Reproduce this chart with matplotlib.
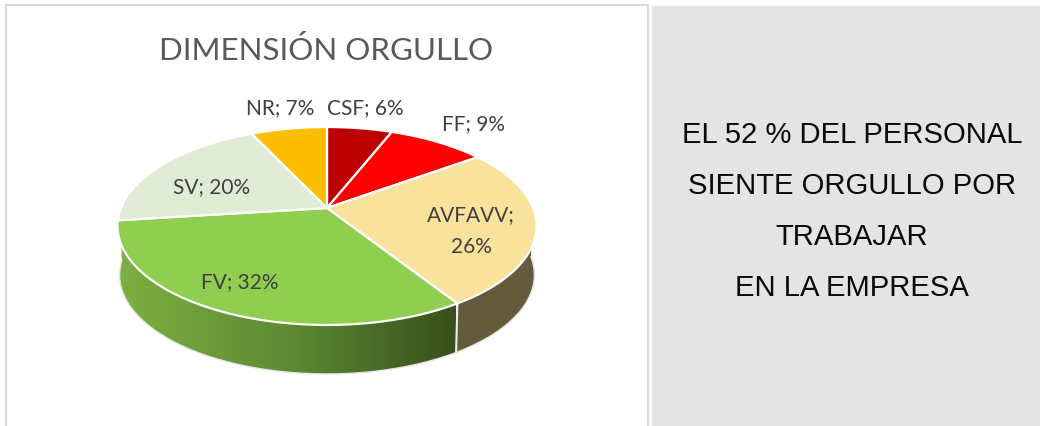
import numpy as np
import matplotlib
matplotlib.use("Agg")
import matplotlib.pyplot as plt
from matplotlib.colors import LinearSegmentedColormap
from matplotlib.patches import Polygon, Rectangle

# -------- data --------
categories = ["CSF", "FF", "AVFAVV", "FV", "SV", "NR"]
percent = [6, 9, 26, 32, 20, 7]
slice_colors = ["#BC0000", "#FF0000", "#F9E29C", "#8FCE4E", "#E0EBD6", "#FDBD00"]
title = "DIMENSIÓN ORGULLO"
side_text = ["EL 52 % DEL PERSONAL", "SIENTE ORGULLO POR", "TRABAJAR", "EN LA EMPRESA"]

# -------- pie projection (all in image pixels) --------
CX, CY = 327, 208
A, B, K = 206, 95.7, -0.1818   # perspective tilt of the 3D pie
DEPTH = 49


def rim(theta):
    # theta is clockwise from 12 o'clock, in radians
    x, y = np.sin(theta), -np.cos(theta)
    d = 1 + K * y
    return CX + A * x / d, CY + B * y / d


def rim_low(theta):
    x, y = rim(theta)
    return CX + (x - CX) * 0.99, y + DEPTH


fig = plt.figure(figsize=(10.4, 4.26), dpi=100)
ax = fig.add_axes([0, 0, 1, 1])
ax.set_xlim(0, 1040)
ax.set_ylim(426, 0)
ax.axis("off")

# frame and grey panel
ax.add_patch(Rectangle((6, 5), 642, 430, facecolor="white", edgecolor="#DADADA", lw=1.5))
ax.add_patch(Rectangle((652, 6), 388, 420, facecolor="#E4E4E4", edgecolor="none"))

edges = np.radians(np.cumsum([0] + percent) * 3.6)

# side wall: only the slices facing the viewer
t_brown = np.linspace(np.pi / 2, edges[3], 60)
xa, ya = rim(t_brown)
xb, yb = rim_low(t_brown)
ax.add_patch(Polygon(np.r_[np.c_[xa, ya], np.c_[xb, yb][::-1]], facecolor="#665A3C",
                     edgecolor="none", zorder=2))

t_green = np.linspace(edges[3], np.radians(268), 120)
xa, ya = rim(t_green)
xb, yb = rim_low(t_green)
wall = Polygon(np.r_[np.c_[xa, ya], np.c_[xb, yb][::-1]], facecolor="none", edgecolor="none",
               transform=ax.transData)
ax.add_patch(wall)
green = LinearSegmentedColormap.from_list("wall", ["#7DB043", "#5F8A33", "#38501C"])
img = ax.imshow(np.linspace(0, 1, 256)[None, :], cmap=green, extent=(118, 456, 380, 210),
                aspect="auto", zorder=2)
img.set_clip_path(wall)
ax.set_xlim(0, 1040)
ax.set_ylim(426, 0)

# wall seam and lower outline
sx0, sy0 = rim(edges[3])
sx1, sy1 = rim_low(edges[3])
ax.plot([sx0, sx1], [sy0, sy1], color="#EDEDED", lw=1.5, zorder=3)
tl = np.linspace(np.pi / 2, np.radians(268), 200)
lx, ly = rim_low(tl)
ax.plot(lx, ly, color="#E4E4E4", lw=1.0, zorder=3)

# top face
for i, c in enumerate(slice_colors):
    t = np.linspace(edges[i], edges[i + 1], 80)
    x, y = rim(t)
    pts = np.r_[[[CX, CY]], np.c_[x, y]]
    ax.add_patch(Polygon(pts, closed=True, facecolor=c, edgecolor="white", lw=1.6,
                         joinstyle="round", zorder=4))

# labels
ax.text(326.5, 50, title, fontsize=22.5, color="#595959", family="Lato", ha="center", va="center")
label_pos = [(365.5, 108), (473, 124), (471, 231), (240, 282), (212, 187), (280, 108)]
for name, p, (lx_, ly_) in zip(categories, percent, label_pos):
    txt = f"{name}; {p}%"
    if name == "AVFAVV":
        txt = f"{name};\n{p}%"
    ax.text(lx_, ly_, txt, fontsize=15, color="#404040", family="Lato", ha="center",
            va="center", linespacing=1.75, zorder=5)

# right panel text
for s, y in zip(side_text, [143, 194.5, 245, 295.5]):
    ax.text(852, y, s, fontsize=21.1, color="#0A0A0A", family="Liberation Sans",
            ha="center", va="baseline")

fig.savefig("out.png", dpi=100)
